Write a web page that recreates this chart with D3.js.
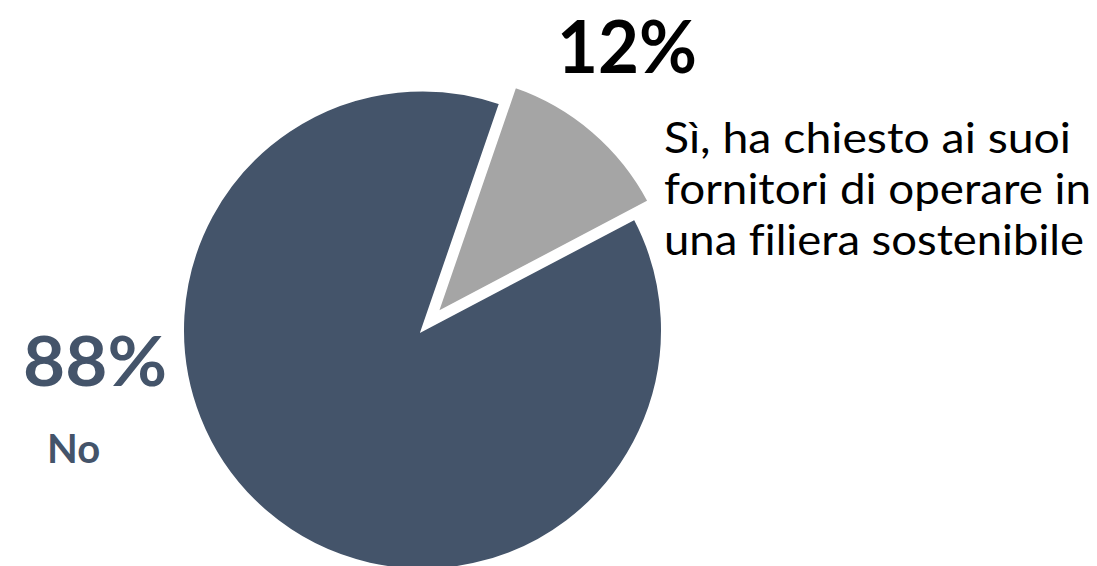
<!DOCTYPE html>
<html>
<head>
<meta charset="utf-8">
<script src="https://cdn.jsdelivr.net/npm/d3@7"></script>
<style>
  html, body { margin: 0; padding: 0; background: #ffffff; }
  svg { display: block; }
  text { font-variant-ligatures: none; }
</style>
</head>
<body>
<svg id="chart" width="1097" height="566"></svg>
<script>
// Survey answers: share of companies that asked suppliers for a sustainable chain
const categories = ["Sì", "No"];
const values = [12, 88];
const valueLabels = ["12%", "88%"];
const descLines = [
  ["Sì, ha chiesto ai suoi", "fornitori di operare in", "una filiera sostenibile"],
  ["No"]
];
const colors = ["#A5A5A5", "#44546A"];

const svg = d3.select("#chart");
const cx = 422.5, cy = 330, radius = 240;
const explode = 22;

const pie = d3.pie()
  .sort(null)
  .value(d => d)
  .startAngle(19 * Math.PI / 180)
  .endAngle(19 * Math.PI / 180 + 2 * Math.PI);

const arc = d3.arc().innerRadius(0).outerRadius(radius);
const slices = pie(values);

const g = svg.append("g").attr("transform", `translate(${cx},${cy})`);

g.selectAll("path.slice")
  .data(slices)
  .join("path")
  .attr("class", "slice")
  .attr("d", arc)
  .attr("fill", (d, i) => colors[i])
  .attr("stroke", "#ffffff")
  .attr("stroke-width", 3)
  .attr("stroke-linejoin", "miter")
  .attr("transform", (d, i) => {
    if (i !== 0) return null;
    const mid = (d.startAngle + d.endAngle) / 2;
    return `translate(${Math.sin(mid) * explode},${-Math.cos(mid) * explode})`;
  });

// Value label and description for the exploded "Sì" slice
svg.append("text")
  .attr("x", 557).attr("y", 73)
  .attr("font-family", "Lato, sans-serif")
  .attr("font-weight", 700)
  .attr("font-size", 72)
  .attr("textLength", 140)
  .attr("lengthAdjust", "spacingAndGlyphs")
  .attr("fill", "#000000")
  .text(valueLabels[0]);

const lineWidths = [407, 427, 420];
svg.append("g")
  .selectAll("text")
  .data(descLines[0])
  .join("text")
  .attr("x", 664)
  .attr("y", (d, i) => 153 + i * 51)
  .attr("font-family", "Lato, sans-serif")
  .attr("font-size", 43)
  .attr("textLength", (d, i) => lineWidths[i])
  .attr("lengthAdjust", "spacingAndGlyphs")
  .attr("fill", "#000000")
  .text(d => d);

// Value label and description for the "No" slice
svg.append("text")
  .attr("x", 23).attr("y", 386)
  .attr("font-family", "Lato, sans-serif")
  .attr("font-weight", 700)
  .attr("font-size", 68)
  .attr("textLength", 144)
  .attr("lengthAdjust", "spacingAndGlyphs")
  .attr("fill", colors[1])
  .text(valueLabels[1]);

svg.append("text")
  .attr("x", 47).attr("y", 463)
  .attr("font-family", "Lato, sans-serif")
  .attr("font-weight", 700)
  .attr("font-size", 40)
  .attr("fill", colors[1])
  .text(descLines[1][0]);
</script>
</body>
</html>
